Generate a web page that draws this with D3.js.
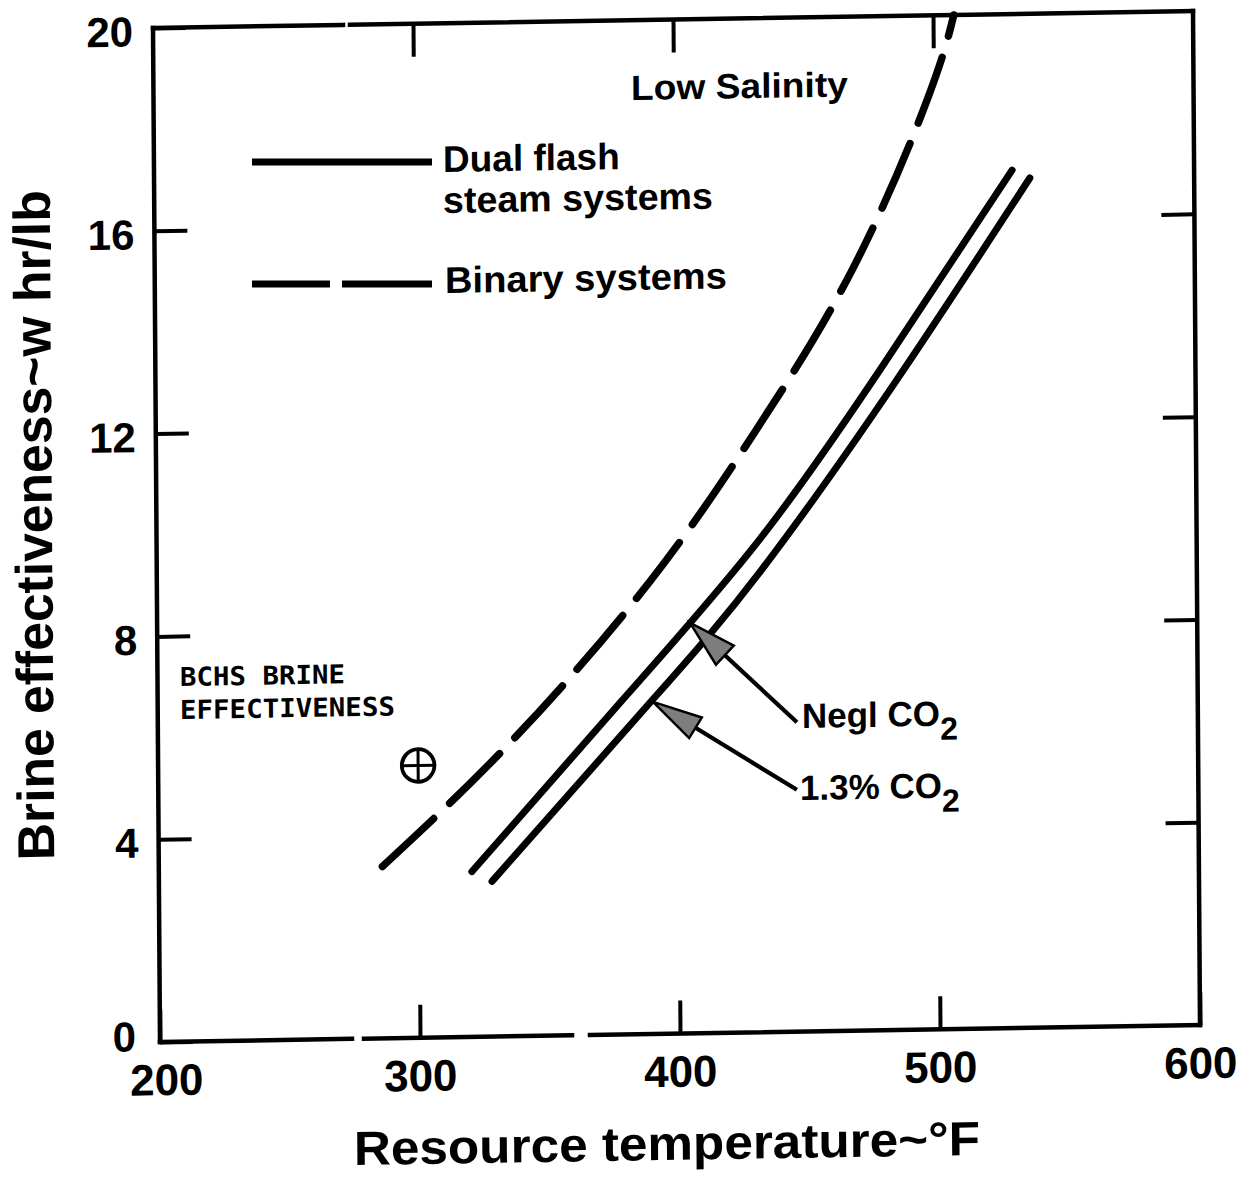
<!DOCTYPE html>
<html><head><meta charset="utf-8">
<script src="https://cdn.jsdelivr.net/npm/d3@7"></script>
<style>
html,body{margin:0;padding:0;background:#fff;}
svg{display:block;background:#fff;}
text{font-family:"Liberation Sans",Arial,sans-serif;font-weight:bold;fill:#000;}
</style></head><body>
<svg id="chart" width="1252" height="1177"></svg>
<script>
// ---------- data ----------
const xTickValues = [200, 300, 400, 500, 600];
const yTickValues = [0, 4, 8, 12, 16, 20];
const topTickValues = [300, 400, 500];
const rightTickValues = [4, 8, 12, 16];

// Binary systems (dashed)
const binaryT = [286, 336, 389.7, 430.4, 468.5, 497.8, 508];
const binaryE = [3.39, 5.82, 8.93, 11.84, 15.03, 18.37, 20.0];

// Dual flash, negligible CO2 (solid, upper)
const neglT = [320.4, 379.0, 432.1, 479.8, 530];
const neglE = [3.26, 6.61, 9.73, 13.11, 16.92];

// Dual flash, 1.3% CO2 (solid, lower)
const co2T = [328.1, 390.5, 432, 483.6, 536.8];
const co2E = [3.06, 6.60, 9.08, 12.71, 16.76];

// BCHS brine effectiveness point
const bchsT = [300];
const bchsE = [5.37];

// annotation arrows: [tipT, tipE, tailT, tailE]
const arrowNegl = [404.9, 8.10, 445.8, 6.10];
const arrowCO2 = [390.5, 6.55, 445.6, 4.77];

// ---------- layout ----------
const svg = d3.select("#chart");
const W = 1040, H = 1014;
const SB = -0.0163, SC = 0.0069, E0 = 153, F0 = 28; // slight scan skew
const x = d3.scaleLinear().domain([200, 600]).range([0, W]);
const y = d3.scaleLinear().domain([0, 20]).range([H, 0]);
const g = svg.append("g").attr("transform", `matrix(1,${SB},${SC},1,${E0},${F0})`);
function inv(X, Y) {
  const det = 1 - SB * SC, dx = X - E0, dy = Y - F0;
  return [(dx - SC * dy) / det, (dy - SB * dx) / det];
}

// frame
const frame = g.append("g").attr("stroke", "#000").attr("stroke-width", 4.5).attr("stroke-linecap", "square");
frame.append("line").attr("x1", 0).attr("y1", 0).attr("x2", W).attr("y2", 0).attr("stroke-dasharray", "190 7 900");
frame.append("line").attr("x1", 0).attr("y1", H).attr("x2", W).attr("y2", H).attr("stroke-dasharray", "192 12 208 18 700");
frame.append("line").attr("x1", 0).attr("y1", 0).attr("x2", 0).attr("y2", H);
frame.append("line").attr("x1", W).attr("y1", 0).attr("x2", W).attr("y2", H);

function styleAxis(sel, fs) {
  sel.select(".domain").remove();
  sel.attr("font-size", fs).attr("font-family", '"Liberation Sans",Arial,sans-serif').attr("font-weight", "bold");
  sel.selectAll(".tick line").attr("stroke", "#000").attr("stroke-width", 4);
  sel.selectAll(".tick text").attr("fill", "#000");
}

const gx = g.append("g").attr("transform", `translate(0,${H})`)
  .call(d3.axisBottom(x).tickValues(xTickValues).tickSizeInner(-33).tickSizeOuter(0).tickPadding(22).tickFormat(d3.format("d")));
styleAxis(gx, 44);
gx.selectAll(".tick text").filter(d => d === 200).attr("dx", 6);

const gy = g.append("g")
  .call(d3.axisLeft(y).tickValues(yTickValues).tickSizeInner(-33).tickSizeOuter(0).tickPadding(20).tickFormat(d3.format("d")));
styleAxis(gy, 42);
gy.selectAll(".tick text").attr("dy", "0.42em");
gy.selectAll(".tick text").filter(d => d === 0).attr("dy", "0.2em").attr("dx", -4);

const gt = g.append("g")
  .call(d3.axisTop(x).tickValues(topTickValues).tickSizeInner(-33).tickSizeOuter(0).tickFormat(() => ""));
styleAxis(gt, 10);

const gr = g.append("g").attr("transform", `translate(${W},0)`)
  .call(d3.axisRight(y).tickValues(rightTickValues).tickSizeInner(-33).tickSizeOuter(0).tickFormat(() => ""));
styleAxis(gr, 10);

// curves
const line = d3.line().x(d => x(d[0])).y(d => y(d[1])).curve(d3.curveNatural);
g.append("path").datum(d3.zip(binaryT, binaryE)).attr("d", line)
  .attr("fill", "none").attr("stroke", "#000").attr("stroke-width", 7.5)
  .attr("stroke-linecap", "round").attr("stroke-dasharray", "70 22");
g.append("path").datum(d3.zip(neglT, neglE)).attr("d", line)
  .attr("fill", "none").attr("stroke", "#000").attr("stroke-width", 7).attr("stroke-linecap", "round");
g.append("path").datum(d3.zip(co2T, co2E)).attr("d", line)
  .attr("fill", "none").attr("stroke", "#000").attr("stroke-width", 7).attr("stroke-linecap", "round");

// BCHS marker
d3.zip(bchsT, bchsE).forEach(([t, e]) => {
  const cx = x(t), cy = y(e), r = 16.3;
  const m = g.append("g").attr("stroke", "#000").attr("fill", "none");
  m.append("circle").attr("cx", cx).attr("cy", cy).attr("r", r).attr("stroke-width", 3.8);
  m.append("line").attr("x1", cx - r).attr("x2", cx + r).attr("y1", cy).attr("y2", cy).attr("stroke-width", 3);
  m.append("line").attr("x1", cx).attr("x2", cx).attr("y1", cy - r).attr("y2", cy + r).attr("stroke-width", 3);
});

// arrows
function arrow(a, L, hw) {
  const px = x(a[0]), py = y(a[1]), qx = x(a[2]), qy = y(a[3]);
  const len = Math.hypot(qx - px, qy - py), ux = (qx - px) / len, uy = (qy - py) / len;
  const bx = px + L * ux, by = py + L * uy, nx = -uy, ny = ux;
  g.append("line").attr("x1", bx).attr("y1", by).attr("x2", qx).attr("y2", qy)
    .attr("stroke", "#000").attr("stroke-width", 4.2);
  g.append("polygon")
    .attr("points", [[px, py], [bx + hw * nx, by + hw * ny], [bx - hw * nx, by - hw * ny]].map(p => p.join(",")).join(" "))
    .attr("fill", "#7d7d7d").attr("stroke", "#000").attr("stroke-width", 2.5).attr("stroke-linejoin", "miter");
}
arrow(arrowNegl, 48, 13);
arrow(arrowCO2, 50, 12);

// text helper (screen coords -> local)
function label(X, Y, str, fs, opts = {}) {
  const [lx, ly] = inv(X, Y);
  const t = g.append("text").attr("x", lx).attr("y", ly).attr("font-size", fs).text(str);
  if (opts.len) t.attr("textLength", opts.len).attr("lengthAdjust", "spacingAndGlyphs");
  if (opts.anchor) t.attr("text-anchor", opts.anchor);
  return t;
}

label(631, 100, "Low Salinity", 35, {len: 217});
label(443, 172, "Dual flash", 37);
label(443, 213, "steam systems", 37, {len: 270});
label(445, 293, "Binary systems", 37, {len: 282});

// legend lines
{
  const [a1, b1] = inv(252, 162), [a2, b2] = inv(432, 162);
  g.append("line").attr("x1", a1).attr("y1", b1).attr("x2", a2).attr("y2", b2)
    .attr("stroke", "#000").attr("stroke-width", 7);
  const [c1, d1] = inv(252, 284), [c2, d2] = inv(432, 284);
  g.append("line").attr("x1", c1).attr("y1", d1).attr("x2", c2).attr("y2", d2)
    .attr("stroke", "#000").attr("stroke-width", 7).attr("stroke-dasharray", "78 12 90");
}

// BCHS text (monospace)
[["BCHS BRINE", 180, 686, 165], ["EFFECTIVENESS", 180, 719, 215]].forEach(([s, X, Y, L]) => {
  const [lx, ly] = inv(X, Y);
  g.append("text").attr("x", lx).attr("y", ly)
    .style("font-family", '"DejaVu Sans Mono",monospace').style("font-weight", "bold")
    .attr("font-size", 26).attr("textLength", L).attr("lengthAdjust", "spacingAndGlyphs").text(s);
});

// CO2 labels
function co2Label(X, Y, main) {
  const t = label(X, Y, main, 35);
  t.append("tspan").attr("dy", 14).attr("font-size", 32).text("2");
}
co2Label(802, 728, "Negl CO");
co2Label(800, 800, "1.3% CO");

// axis titles
label(667, 1160, "Resource temperature~°F", 48, {len: 626, anchor: "middle"});
{
  const [lx, ly] = inv(52, 525);
  g.append("text").attr("transform", `translate(${lx},${ly}) rotate(-90)`)
    .attr("text-anchor", "middle").attr("font-size", 52)
    .attr("textLength", 670).attr("lengthAdjust", "spacingAndGlyphs")
    .text("Brine effectiveness~w hr/lb");
}
</script>
</body></html>
